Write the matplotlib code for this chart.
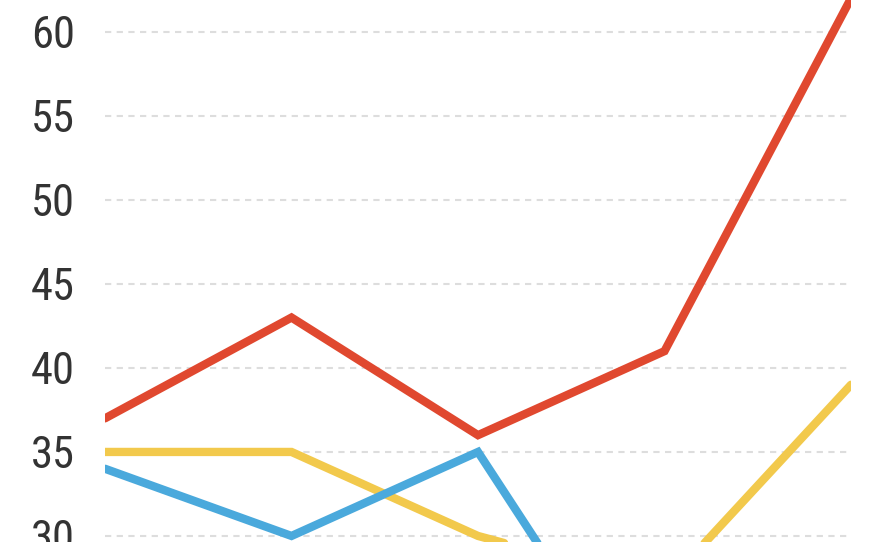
import matplotlib
matplotlib.use('Agg')
import matplotlib.pyplot as plt

# values (y axis is cropped at roughly 29.6 .. 61.9)
periods = [0, 1, 2, 3, 4]
red_vals = [37, 43, 36, 41, 62]
yellow_vals = [35, 35, 30, 27, 39]
blue_vals = [34, 30, 35, 18, 20]
y_ticks = [30, 35, 40, 45, 50, 55, 60]

RED = '#e0482f'
YELLOW = '#f2c94c'
BLUE = '#4aa9dc'


def main():
    fig = plt.figure(figsize=(8.8, 5.42), dpi=100)
    ax = fig.add_axes([105 / 880, 0, (851 - 105) / 880, 1])
    ax.set_xlim(0, 4)
    ax.set_ylim(29.64, 61.9)

    # dashed horizontal grid
    for t in y_ticks:
        ax.plot([0, 3.985], [t, t], color='#dddddd', lw=1.5,
                dashes=(3, 2.6), zorder=1, clip_on=False)

    for vals, col, z in [(yellow_vals, YELLOW, 3), (blue_vals, BLUE, 4),
                         (red_vals, RED, 5)]:
        ax.plot(periods, vals, color=col, lw=6, zorder=z,
                solid_joinstyle='miter', solid_capstyle='round')

    for s in ax.spines.values():
        s.set_visible(False)
    ax.set_xticks([])
    ax.set_yticks(y_ticks)
    ax.tick_params(axis='y', length=0, pad=21.6, labelsize=32,
                   labelcolor='#333333')
    for lab in ax.get_yticklabels():
        lab.set_family(['Roboto Condensed', 'Liberation Sans Narrow',
                        'Roboto', 'DejaVu Sans'])
        lab.set_fontstretch('condensed')

    fig.savefig('out.png', dpi=100)
    plt.close('all')


if __name__ == '__main__':
    main()
